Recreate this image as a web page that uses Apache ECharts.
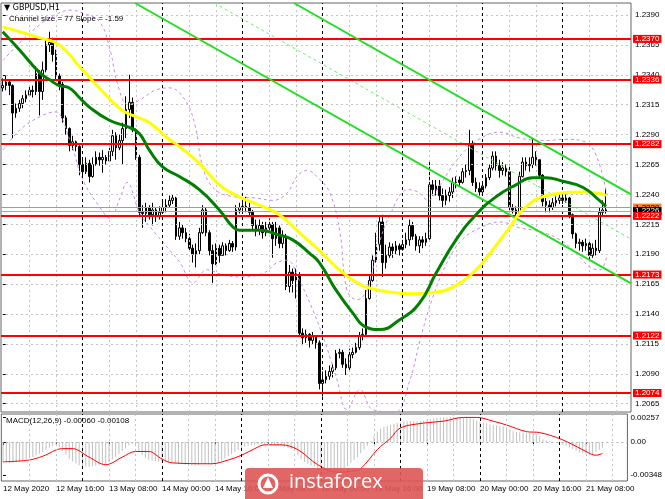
<!DOCTYPE html>
<html><head><meta charset="utf-8">
<script src="https://cdn.jsdelivr.net/npm/echarts@6/dist/echarts.min.js"></script>
<style>html,body{margin:0;padding:0;background:#fff}#c{width:665px;height:499px}</style>
</head><body><div id="c"></div>
<script>
// [open, close, low, high] per H1 bar, 12 May 00:00 .. 21 May 13:00
const candles = [
[1.2329,1.2331,1.2326,1.2337],[1.2331,1.2334,1.2327,1.2339],[1.2334,1.2331,1.2323,1.2336],[1.2331,1.2308,1.2287,1.2332],
[1.2308,1.2312,1.2304,1.2316],[1.2312,1.2316,1.2309,1.2319],[1.2316,1.2320,1.2312,1.2323],[1.2320,1.2323,1.2317,1.2327],
[1.2323,1.2327,1.2322,1.2331],[1.2327,1.2326,1.2321,1.2331],[1.2326,1.2341,1.2323,1.2347],[1.2341,1.2326,1.2306,1.2344],
[1.2326,1.2344,1.2319,1.2351],[1.2344,1.2365,1.2342,1.2369],[1.2365,1.2367,1.2359,1.2376],[1.2367,1.2357,1.2351,1.2371],
[1.2357,1.2339,1.2336,1.2361],[1.2339,1.2332,1.2327,1.2341],[1.2332,1.2304,1.2300,1.2334],[1.2304,1.2295,1.2290,1.2306],
[1.2295,1.2281,1.2276,1.2296],[1.2281,1.2284,1.2277,1.2289],[1.2284,1.2280,1.2276,1.2285],[1.2280,1.2265,1.2256,1.2281],
[1.2265,1.2259,1.2254,1.2269],[1.2259,1.2266,1.2257,1.2271],[1.2266,1.2255,1.2250,1.2269],[1.2255,1.2265,1.2254,1.2271],
[1.2265,1.2271,1.2264,1.2276],[1.2271,1.2269,1.2264,1.2275],[1.2269,1.2271,1.2258,1.2277],[1.2271,1.2268,1.2265,1.2273],
[1.2268,1.2276,1.2267,1.2279],[1.2276,1.2289,1.2272,1.2294],[1.2289,1.2279,1.2269,1.2292],[1.2279,1.2285,1.2277,1.2290],
[1.2285,1.2295,1.2265,1.2300],[1.2295,1.2311,1.2287,1.2322],[1.2311,1.2317,1.2304,1.2340],[1.2317,1.2294,1.2292,1.2321],
[1.2294,1.2271,1.2269,1.2295],[1.2271,1.2225,1.2222,1.2273],[1.2225,1.2224,1.2212,1.2231],[1.2224,1.2229,1.2217,1.2233],
[1.2229,1.2223,1.2219,1.2231],[1.2223,1.2227,1.2214,1.2233],[1.2227,1.2222,1.2217,1.2229],[1.2222,1.2225,1.2219,1.2230],
[1.2225,1.2229,1.2224,1.2234],[1.2229,1.2231,1.2225,1.2236],[1.2231,1.2235,1.2229,1.2239],[1.2235,1.2237,1.2232,1.2240],
[1.2237,1.2205,1.2202,1.2238],[1.2205,1.2212,1.2202,1.2217],[1.2212,1.2208,1.2203,1.2215],[1.2208,1.2203,1.2200,1.2212],
[1.2203,1.2195,1.2192,1.2207],[1.2195,1.2190,1.2183,1.2198],[1.2190,1.2193,1.2179,1.2199],[1.2193,1.2208,1.2190,1.2212],
[1.2208,1.2227,1.2207,1.2231],[1.2227,1.2208,1.2205,1.2229],[1.2208,1.2193,1.2189,1.2210],[1.2193,1.2182,1.2166,1.2198],
[1.2182,1.2195,1.2181,1.2199],[1.2195,1.2189,1.2183,1.2198],[1.2189,1.2197,1.2189,1.2200],[1.2197,1.2193,1.2189,1.2199],
[1.2193,1.2199,1.2192,1.2202],[1.2199,1.2196,1.2192,1.2201],[1.2196,1.2227,1.2193,1.2231],[1.2227,1.2229,1.2224,1.2233],
[1.2229,1.2230,1.2225,1.2235],[1.2230,1.2229,1.2225,1.2238],[1.2229,1.2225,1.2222,1.2234],[1.2225,1.2214,1.2210,1.2227],
[1.2214,1.2210,1.2205,1.2219],[1.2210,1.2214,1.2206,1.2219],[1.2214,1.2208,1.2203,1.2217],[1.2208,1.2212,1.2205,1.2217],
[1.2212,1.2215,1.2208,1.2220],[1.2215,1.2203,1.2187,1.2217],[1.2203,1.2212,1.2197,1.2217],[1.2212,1.2199,1.2195,1.2214],
[1.2199,1.2205,1.2195,1.2210],[1.2205,1.2163,1.2160,1.2207],[1.2163,1.2175,1.2158,1.2181],[1.2175,1.2168,1.2158,1.2178],
[1.2168,1.2173,1.2153,1.2178],[1.2173,1.2124,1.2121,1.2175],[1.2124,1.2120,1.2114,1.2128],[1.2120,1.2123,1.2116,1.2127],
[1.2123,1.2118,1.2112,1.2124],[1.2118,1.2121,1.2115,1.2125],[1.2121,1.2116,1.2111,1.2122],[1.2116,1.2082,1.2077,1.2118],
[1.2082,1.2085,1.2071,1.2092],[1.2085,1.2088,1.2082,1.2093],[1.2088,1.2092,1.2085,1.2097],[1.2092,1.2095,1.2087,1.2098],
[1.2095,1.2107,1.2093,1.2110],[1.2107,1.2108,1.2103,1.2111],[1.2108,1.2098,1.2095,1.2110],[1.2098,1.2095,1.2089,1.2103],
[1.2095,1.2106,1.2093,1.2111],[1.2106,1.2108,1.2103,1.2112],[1.2108,1.2112,1.2107,1.2116],[1.2112,1.2122,1.2110,1.2125],
[1.2122,1.2123,1.2118,1.2128],[1.2123,1.2153,1.2122,1.2160],[1.2153,1.2168,1.2152,1.2173],[1.2168,1.2185,1.2167,1.2189],
[1.2185,1.2198,1.2183,1.2208],[1.2198,1.2217,1.2193,1.2221],[1.2217,1.2183,1.2171,1.2223],[1.2183,1.2189,1.2178,1.2198],
[1.2189,1.2196,1.2187,1.2200],[1.2196,1.2193,1.2187,1.2199],[1.2193,1.2197,1.2190,1.2201],[1.2197,1.2194,1.2189,1.2199],
[1.2194,1.2198,1.2193,1.2202],[1.2198,1.2202,1.2195,1.2208],[1.2202,1.2214,1.2197,1.2219],[1.2214,1.2205,1.2202,1.2217],
[1.2205,1.2197,1.2193,1.2207],[1.2197,1.2202,1.2191,1.2205],[1.2202,1.2200,1.2195,1.2205],[1.2200,1.2203,1.2197,1.2208],
[1.2203,1.2248,1.2202,1.2267],[1.2248,1.2244,1.2239,1.2252],[1.2244,1.2247,1.2239,1.2252],[1.2247,1.2239,1.2235,1.2252],
[1.2239,1.2235,1.2229,1.2245],[1.2235,1.2239,1.2231,1.2244],[1.2239,1.2242,1.2234,1.2246],[1.2242,1.2250,1.2237,1.2254],
[1.2250,1.2252,1.2245,1.2255],[1.2252,1.2250,1.2247,1.2255],[1.2250,1.2259,1.2249,1.2262],[1.2259,1.2260,1.2254,1.2265],
[1.2260,1.2281,1.2256,1.2294],[1.2281,1.2250,1.2247,1.2285],[1.2250,1.2245,1.2242,1.2254],[1.2245,1.2242,1.2239,1.2250],
[1.2242,1.2247,1.2241,1.2250],[1.2247,1.2254,1.2245,1.2257],[1.2254,1.2262,1.2252,1.2265],[1.2262,1.2272,1.2260,1.2276],
[1.2272,1.2264,1.2260,1.2276],[1.2264,1.2260,1.2254,1.2269],[1.2260,1.2262,1.2256,1.2267],[1.2262,1.2259,1.2255,1.2265],
[1.2259,1.2229,1.2225,1.2265],[1.2229,1.2227,1.2224,1.2232],[1.2227,1.2224,1.2220,1.2230],[1.2224,1.2255,1.2222,1.2259],
[1.2255,1.2267,1.2254,1.2271],[1.2267,1.2264,1.2260,1.2271],[1.2264,1.2265,1.2259,1.2271],[1.2265,1.2271,1.2262,1.2287],
[1.2271,1.2269,1.2264,1.2276],[1.2269,1.2256,1.2254,1.2269],[1.2256,1.2234,1.2230,1.2257],[1.2234,1.2231,1.2225,1.2237],
[1.2231,1.2229,1.2225,1.2235],[1.2229,1.2233,1.2227,1.2237],[1.2233,1.2235,1.2230,1.2239],[1.2235,1.2237,1.2232,1.2240],
[1.2237,1.2235,1.2232,1.2239],[1.2235,1.2237,1.2233,1.2240],[1.2237,1.2223,1.2220,1.2238],[1.2223,1.2207,1.2203,1.2224],
[1.2207,1.2199,1.2195,1.2208],[1.2199,1.2200,1.2193,1.2203],[1.2200,1.2197,1.2192,1.2202],[1.2197,1.2199,1.2193,1.2203],
[1.2199,1.2189,1.2185,1.2202],[1.2189,1.2195,1.2187,1.2199],[1.2195,1.2193,1.2189,1.2202],[1.2193,1.2225,1.2191,1.2229],
[1.2225,1.2227,1.2222,1.2235],[1.2227,1.2226,1.2224,1.2245]
];
const macdHist = [
-0.00210,-0.00212,-0.00218,-0.00220,-0.00214,-0.00205,
-0.00195,-0.00185,-0.00172,-0.00160,-0.00140,-0.00125,
-0.00105,-0.00080,-0.00060,-0.00040,
-0.00030,-0.00055,-0.00095,-0.00135,-0.00175,-0.00205,-0.00228,-0.00245,-0.00258,
-0.00262,-0.00262,-0.00255,-0.00250,-0.00242,-0.00235,-0.00228,
-0.00210,-0.00185,-0.00155,-0.00125,-0.00095,-0.00065,-0.00035,-0.00015,
-0.00045,-0.00095,-0.00135,-0.00165,-0.00185,-0.00195,-0.00203,-0.00208,
-0.00212,-0.00215,-0.00215,-0.00213,-0.00225,-0.00232,-0.00236,-0.00240,-0.00243,-0.00245,-0.00245,
-0.00240,-0.00230,-0.00230,-0.00232,-0.00235,-0.00230,
-0.00215,-0.00195,-0.00175,-0.00150,-0.00130,-0.00105,-0.00085,
-0.00065,-0.00050,-0.00040,-0.00035,-0.00030,-0.00025,-0.00022,
-0.00025,-0.00030,-0.00035,-0.00035,-0.00040,-0.00045,-0.00050,-0.00060,
-0.00070,-0.00090,-0.00140,-0.00180,-0.00210,-0.00230,-0.00248,-0.00260,
-0.00300,-0.00330,-0.00350,-0.00360,-0.00360,-0.00350,-0.00330,-0.00310,-0.00280,-0.00250,
-0.00220,-0.00190,-0.00160,-0.00120,-0.00080,-0.00040,
0.00010,0.00060,0.00110,0.00140,0.00160,0.00170,0.00180,0.00190,0.00200,0.00210,
0.00215,0.00220,0.00222,0.00222,0.00220,0.00222,0.00225,0.00230,0.00240,0.00248,
0.00255,0.00258,0.00260,0.00260,0.00262,0.00262,0.00260,0.00260,0.00258,0.00255,
0.00250,0.00240,0.00225,0.00215,0.00205,0.00195,0.00185,0.00180,0.00175,0.00170,
0.00165,0.00155,0.00135,0.00115,0.00105,0.00100,0.00098,0.00095,0.00092,0.00090,
0.00080,0.00060,0.00030,0.00018,0.00010,0.00002,-0.00008,-0.00018,-0.00028,-0.00040,
-0.00058,-0.00075,-0.00095,-0.00110,-0.00120,-0.00130,-0.00140,-0.00130,-0.00105,-0.00082,-0.00060
];
const macdSignal = [[0,-0.0021],[8,-0.0019],[12,-0.0015],[18,-0.0007],[21,-0.0007],[26,-0.0016],[31,-0.0024],[36,-0.0016],[40,-0.0010],[44,-0.0010],[48,-0.0018],[51,-0.0022],[63,-0.0023],[68,-0.0019],[72,-0.0014],[76,-0.0007],[79,-0.0003],[84,-0.0003],[89,-0.0008],[95,-0.0024],[101,-0.0032],[105,-0.0031],[108,-0.0028],[113,-0.0008],[117,0.0004],[120,0.0015],[127,0.0020],[133,0.0022],[139,0.0026],[143,0.0026],[148,0.0022],[152,0.0018],[158,0.0011],[162,0.0010],[167,0.0005],[171,-0.0001],[176,-0.0010],[179,-0.0014],[181,-0.0012]];
const maYellow = [[0,1.2380],[11,1.2371],[17,1.2365],[23,1.2347],[29,1.2329],[35,1.2312],[39,1.2306],[44,1.2300],[49,1.2288],[53,1.2280],[59,1.2266],[65,1.2248],[71,1.2238],[77,1.2231],[83,1.2223],[89,1.2208],[95,1.2193],[101,1.2177],[107,1.2165],[111,1.2161],[117,1.2158],[123,1.2157],[129,1.2158],[136,1.2164],[142,1.2177],[146,1.2190],[149,1.2201],[152,1.2212],[155,1.2224],[158,1.2232],[161,1.2237],[167,1.2241],[173,1.2242],[179,1.2241],[181,1.2239]];
const maGreen = [[0,1.2376],[5,1.2361],[11,1.2342],[14,1.2336],[17,1.2331],[20,1.2329],[23,1.2321],[26,1.2313],[32,1.2302],[38,1.2296],[41,1.2291],[44,1.2277],[48,1.2263],[53,1.2255],[59,1.2244],[65,1.2227],[69,1.2213],[71,1.2210],[77,1.2210],[83,1.2206],[87,1.2202],[92,1.2191],[95,1.2183],[100,1.2160],[105,1.2141],[109,1.2129],[113,1.2127],[119,1.2135],[125,1.2149],[130,1.2174],[136,1.2202],[142,1.2223],[148,1.2238],[154,1.2248],[159,1.2254],[163,1.2254],[168,1.2251],[174,1.2246],[179,1.2235],[181,1.2230]];
const bandUpper = [[0.1,1.2352],[5.2,1.2367],[11.2,1.2382],[15.7,1.2390],[20.2,1.2394],[24.7,1.2391],[29.2,1.2384],[32.2,1.2361],[34.6,1.2331],[37.6,1.2315],[41.2,1.2319],[45.7,1.2327],[50.2,1.2329],[54.7,1.2319],[57.7,1.2298],[60.1,1.2262],[63.7,1.2244],[69.7,1.2238],[75.7,1.2237],[81.1,1.2235],[85.3,1.2241],[88.3,1.2255],[91.3,1.2260],[94.6,1.2254],[98.2,1.2241],[101.2,1.2208],[103.3,1.2160],[106.3,1.2152],[109.3,1.2160],[112.3,1.2193],[116.2,1.2223],[121.6,1.2244],[124.6,1.2242],[127.6,1.2235],[131.2,1.2248],[136.3,1.2269],[142.3,1.2285],[149.2,1.2292],[155.2,1.2287],[162.7,1.2285],[168.7,1.2286],[174.7,1.2284],[178.3,1.2271],[181.3,1.2239]];
const bandLower = [[0.1,1.2277],[5.2,1.2294],[11.2,1.2305],[15.7,1.2309],[20.2,1.2285],[24.1,1.2252],[29.2,1.2229],[32.2,1.2220],[35.2,1.2237],[37.3,1.2250],[41.2,1.2224],[45.1,1.2210],[49.3,1.2196],[53.2,1.2183],[57.1,1.2166],[61.3,1.2177],[65.8,1.2173],[71.2,1.2171],[78.1,1.2174],[82.3,1.2183],[85.3,1.2185],[89.2,1.2167],[93.1,1.2143],[96.1,1.2121],[98.2,1.2104],[100.3,1.2085],[103.3,1.2060],[107.2,1.2077],[111.1,1.2060],[117.7,1.2058],[122.2,1.2085],[125.2,1.2118],[128.8,1.2152],[133.3,1.2183],[137.8,1.2202],[143.2,1.2212],[149.2,1.2217],[155.2,1.2212],[161.2,1.2209],[167.2,1.2202],[171.7,1.2192],[176.2,1.2179],[179.2,1.2177],[181.3,1.2189]];
const channelTop = [[87.4,1.2400],[188.5,1.22401]];
const channelBottom = [[39.7,1.2400],[188.5,1.21656]];
const channelMid = [[63.5,1.2400],[188.5,1.22027]];
const levels = [1.2370,1.2336,1.2282,1.2222,1.2173,1.2122,1.2074];
const priceTicks = [1.2065,1.2090,1.2115,1.2140,1.2165,1.2190,1.2215,1.2240,1.2265,1.2290,1.2315,1.2340,1.2365,1.2390];
const macdTicks = [0.00257,0,-0.00348];
const timeLabels = ['12 May 2020','12 May 16:00','13 May 08:00','14 May 00:00','14 May 16:00','15 May 08:00','18 May 00:00','18 May 16:00','19 May 08:00','20 May 00:00','20 May 16:00','21 May 08:00'];
const askPrice = 1.2229, bidPrice = 1.2226;

const NCAT = 189;
const cats = Array.from({length: NCAT}, (_, i) => String(i));
const FONT = 'Liberation Sans, Arial, DejaVu Sans, sans-serif';
const gridV = [], dayV = [];
for (let i = 8; i < NCAT; i += 8) { if (i % 24 === 0) dayV.push(i); else gridV.push(i); }
const lblIdx = (i) => i % 16 === 0 && i / 16 < timeLabels.length;

const chart = echarts.init(document.getElementById('c'), null, {renderer: 'canvas'});
const dashGray = {color: '#c4c4c4', type: [2, 3], width: 1};
const dashBlack = {color: '#000', type: [3, 3], width: 1};
const vLines = gridV.map(i => ({xAxis: i, lineStyle: dashGray})).concat(dayV.map(i => ({xAxis: i, lineStyle: dashBlack})));
const tagLabel = {show: true, position: 'end', distance: 2, fontSize: 8, lineHeight: 8, fontFamily: FONT, padding: [0, 2, 0, 2], formatter: p => Number(p.value).toFixed(4)};

chart.setOption({
  animation: false,
  backgroundColor: '#fff',
  textStyle: {fontFamily: FONT},
  grid: [
    {left: 1, top: 3, width: 630, height: 409, show: true, borderColor: '#666', borderWidth: 1, backgroundColor: '#fff'},
    {left: 1, top: 414, width: 630, height: 67, show: true, borderColor: '#666', borderWidth: 1, backgroundColor: '#fff'}
  ],
  xAxis: [
    {type: 'category', gridIndex: 0, data: cats, boundaryGap: true, axisLine: {show: false}, axisTick: {show: false}, axisLabel: {show: false}, splitLine: {show: false}},
    {type: 'category', gridIndex: 1, data: cats, boundaryGap: true, axisLine: {show: false},
      axisTick: {show: true, interval: lblIdx, alignWithLabel: true, length: 3, lineStyle: {color: '#000'}},
      axisLabel: {show: true, interval: lblIdx, align: 'left', margin: 4, fontSize: 8, color: '#000', fontFamily: FONT,
        formatter: (v, idx) => timeLabels[Math.round(idx / 16)] || ''}, splitLine: {show: false}},
    {type: 'value', gridIndex: 0, min: -0.5, max: NCAT - 0.5, show: false},
    {type: 'value', gridIndex: 1, min: -0.5, max: NCAT - 0.5, show: false}
  ],
  yAxis: [
    {type: 'value', gridIndex: 0, position: 'right', min: 1.20581, max: 1.2400, axisLine: {show: false},
      axisTick: {show: true, customValues: priceTicks, length: 3, lineStyle: {color: '#000'}},
      axisLabel: {show: true, customValues: priceTicks, formatter: v => v.toFixed(4), fontSize: 8, color: '#000', margin: 4, fontFamily: FONT},
      splitLine: {show: false}},
    {type: 'value', gridIndex: 1, position: 'right', min: -0.00412, max: 0.00296, axisLine: {show: false},
      axisTick: {show: true, customValues: macdTicks, length: 3, lineStyle: {color: '#000'}},
      axisLabel: {show: true, customValues: macdTicks, formatter: v => (Math.abs(v) < 1e-9 ? '0.00' : v.toFixed(5)), fontSize: 8, color: '#000', margin: 3, fontFamily: FONT},
      splitLine: {show: false}}
  ],
  series: [
    {type: 'line', xAxisIndex: 2, yAxisIndex: 0, data: [], z: 1, silent: true,
      markLine: {silent: true, precision: 6, symbol: ['none', 'none'], label: {show: false}, animation: false,
        data: priceTicks.map(v => ({yAxis: v, lineStyle: dashGray})).concat(vLines)}},
    {type: 'line', xAxisIndex: 3, yAxisIndex: 1, data: [], z: 1, silent: true,
      markLine: {silent: true, precision: 6, symbol: ['none', 'none'], label: {show: false}, animation: false,
        data: [{yAxis: 0, lineStyle: {color: '#b0b0b0', type: [2, 3], width: 1}}].concat(vLines)}},
    {type: 'candlestick', xAxisIndex: 0, yAxisIndex: 0, data: candles, barWidth: 2.4, z: 3,
      itemStyle: {color: '#ffffff', color0: '#000000', borderColor: '#000000', borderColor0: '#000000', borderWidth: 1}},
    {type: 'line', xAxisIndex: 2, yAxisIndex: 0, data: bandUpper, smooth: 0.4, symbol: 'none', z: 4, lineStyle: {color: '#c68ae8', width: 1, type: [3, 3]}},
    {type: 'line', xAxisIndex: 2, yAxisIndex: 0, data: bandLower, smooth: 0.4, symbol: 'none', z: 4, lineStyle: {color: '#c68ae8', width: 1, type: [3, 3]}},
    {type: 'line', xAxisIndex: 2, yAxisIndex: 0, data: channelMid, symbol: 'none', z: 4, lineStyle: {color: '#66ee66', width: 1, type: [3, 3]}},
    {type: 'line', xAxisIndex: 2, yAxisIndex: 0, data: channelTop, symbol: 'none', z: 5, lineStyle: {color: '#22dd22', width: 2}},
    {type: 'line', xAxisIndex: 2, yAxisIndex: 0, data: channelBottom, symbol: 'none', z: 5, lineStyle: {color: '#22dd22', width: 2}},
    {type: 'line', xAxisIndex: 2, yAxisIndex: 0, data: maYellow, smooth: 0.5, symbol: 'none', z: 6, lineStyle: {color: '#ffff00', width: 3}},
    {type: 'line', xAxisIndex: 2, yAxisIndex: 0, data: maGreen, smooth: 0.5, symbol: 'none', z: 6, lineStyle: {color: '#008000', width: 3}},
    {type: 'line', xAxisIndex: 2, yAxisIndex: 0, data: [], z: 7, silent: true,
      markLine: {silent: true, precision: 6, symbol: ['none', 'none'], animation: false, label: tagLabel,
        data: [
          {yAxis: askPrice, lineStyle: {color: '#ff8030', width: 1, type: 'solid'}, label: {color: '#000', backgroundColor: '#ff8030'}},
          {yAxis: bidPrice, lineStyle: {color: '#a8a8a8', width: 1, type: 'solid'}, label: {color: '#fff', backgroundColor: '#000'}}
        ]}},
    {type: 'line', xAxisIndex: 2, yAxisIndex: 0, data: [], z: 8, silent: true,
      markLine: {silent: true, precision: 6, symbol: ['none', 'none'], animation: false,
        lineStyle: {color: '#ff0000', width: 2, type: 'solid'},
        label: Object.assign({}, tagLabel, {color: '#fff', backgroundColor: '#ff0000'}),
        data: levels.map(v => ({yAxis: v}))}},
    {type: 'bar', xAxisIndex: 1, yAxisIndex: 1, data: macdHist, barWidth: 1, z: 3, itemStyle: {color: '#c0c0c0'}},
    {type: 'line', xAxisIndex: 3, yAxisIndex: 1, data: macdSignal, smooth: 0.35, symbol: 'none', z: 4, lineStyle: {color: '#ff0000', width: 1}}
  ],
  graphic: [
    {type: 'text', left: 4, top: 4, z: 100, style: {text: '\u25BC GBPUSD,H1', fontSize: 8, fontFamily: 'DejaVu Sans, ' + FONT, fill: '#000'}},
    {type: 'text', left: 9, top: 15, z: 100, style: {text: 'Channel size = 77 Slope = -1.59', fontSize: 8, fontFamily: FONT, fill: '#000'}},
    {type: 'text', left: 6, top: 417, z: 100, style: {text: 'MACD(12,26,9) -0.00060 -0.00108', fontSize: 8, fontFamily: FONT, fill: '#000'}},
    {type: 'rect', z: 100, shape: {x: 245, y: 468, width: 178, height: 40, r: 4}, style: {fill: 'rgba(222,86,86,0.9)'}},
    {type: 'circle', z: 101, shape: {cx: 268, cy: 484, r: 9}, style: {fill: 'none', stroke: '#fff', lineWidth: 3}},
    {type: 'polygon', z: 101, shape: {points: [[268, 477], [273, 488], [263, 488]]}, style: {fill: '#fff'}},
    {type: 'text', z: 101, left: 289, top: 472, style: {text: 'instaforex', fontSize: 20, fontFamily: 'Open Sans, Lato, sans-serif', fill: '#fff'}}
  ]
});
</script></body></html>
